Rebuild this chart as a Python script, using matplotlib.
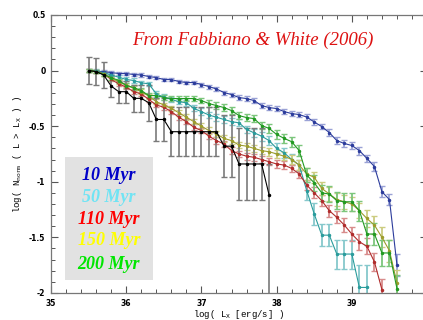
import matplotlib.pyplot as plt
from matplotlib.patches import Rectangle
from matplotlib.ticker import MultipleLocator

# log(Lx) grid, bins of 0.1 dex
lx = [35.5, 35.6, 35.7, 35.8, 35.9, 36.0, 36.1, 36.2, 36.3, 36.4,
      36.5, 36.6, 36.7, 36.8, 36.9, 37.0, 37.1, 37.2, 37.3, 37.4,
      37.5, 37.6, 37.7, 37.8, 37.9, 38.0, 38.1, 38.2, 38.3, 38.4,
      38.5, 38.6, 38.7, 38.8, 38.9, 39.0, 39.1, 39.2, 39.3, 39.4,
      39.5, 39.6]

# 10 Myr
blue = [0, -0.006, -0.01, -0.018, -0.027, -0.027, -0.036, -0.04, -0.054, -0.063,
        -0.081, -0.081, -0.099, -0.108, -0.108, -0.126, -0.144, -0.166, -0.198, -0.216,
        -0.243, -0.252, -0.27, -0.315, -0.333, -0.342, -0.369, -0.387, -0.396, -0.418,
        -0.463, -0.504, -0.558, -0.63, -0.656, -0.674, -0.72, -0.79, -0.863, -1.09,
        -1.16, -1.75]
blue_err = [0.015, 0.015, 0.015, 0.015, 0.015, 0.015, 0.015, 0.015, 0.015, 0.015,
            0.017, 0.017, 0.017, 0.017, 0.017, 0.018, 0.018, 0.018, 0.018, 0.018,
            0.02, 0.02, 0.02, 0.02, 0.02, 0.02, 0.022, 0.022, 0.022, 0.025,
            0.025, 0.025, 0.028, 0.03, 0.03, 0.03, 0.035, 0.035, 0.04, 0.05,
            0.05, 0.1]

# 50 Myr
cyan = [0, -0.005, -0.02, -0.04, -0.06, -0.08, -0.09, -0.11, -0.12, -0.21,
        -0.24, -0.26, -0.28, -0.29, -0.34, -0.37, -0.40, -0.42, -0.44, -0.46,
        -0.47, -0.53, -0.56, -0.59, -0.63, -0.70, -0.74, -0.80, -0.85, -1.08,
        -1.29, -1.48, -1.48, -1.65, -1.65, -1.65, -1.95, -1.95]
cyan_err = [0.015, 0.015, 0.015, 0.015, 0.018, 0.018, 0.02, 0.02, 0.02, 0.025,
            0.025, 0.025, 0.025, 0.028, 0.028, 0.03, 0.03, 0.03, 0.03, 0.032,
            0.032, 0.035, 0.035, 0.04, 0.04, 0.045, 0.045, 0.05, 0.05, 0.08,
            0.1, 0.1, 0.1, 0.13, 0.13, 0.13, 0.2, 0.2]

# 110 Myr
red = [0, -0.01, -0.03, -0.08, -0.12, -0.15, -0.19, -0.21, -0.26, -0.31,
       -0.33, -0.37, -0.42, -0.46, -0.51, -0.54, -0.59, -0.63, -0.66, -0.72,
       -0.75, -0.77, -0.78, -0.80, -0.82, -0.84, -0.85, -0.88, -0.93, -1.03,
       -1.10, -1.17, -1.26, -1.32, -1.39, -1.47, -1.54, -1.58, -1.72, -1.97]
red_err = [0.015, 0.015, 0.015, 0.018, 0.018, 0.02, 0.02, 0.02, 0.022, 0.022,
           0.022, 0.022, 0.025, 0.025, 0.025, 0.025, 0.028, 0.028, 0.03, 0.03,
           0.03, 0.03, 0.03, 0.032, 0.032, 0.032, 0.035, 0.035, 0.04, 0.045,
           0.05, 0.05, 0.055, 0.055, 0.06, 0.065, 0.07, 0.07, 0.08, 0.1]

# 150 Myr
olive = [0, -0.01, -0.03, -0.07, -0.10, -0.13, -0.16, -0.19, -0.23, -0.28,
         -0.31, -0.34, -0.38, -0.42, -0.46, -0.50, -0.54, -0.57, -0.61, -0.63,
         -0.67, -0.68, -0.70, -0.72, -0.73, -0.75, -0.77, -0.80, -0.85, -0.93,
         -0.96, -1.06, -1.11, -1.16, -1.18, -1.20, -1.26, -1.33, -1.39, -1.50,
         -1.62, -1.91]
olive_err = [0.015, 0.015, 0.015, 0.018, 0.018, 0.02, 0.02, 0.02, 0.022, 0.022,
             0.022, 0.022, 0.025, 0.025, 0.025, 0.025, 0.028, 0.028, 0.03, 0.03,
             0.03, 0.03, 0.032, 0.032, 0.035, 0.035, 0.038, 0.04, 0.045, 0.05,
             0.05, 0.055, 0.06, 0.06, 0.065, 0.065, 0.07, 0.075, 0.08, 0.09,
             0.1, 0.12]

# 200 Myr
green = [0, -0.01, -0.036, -0.063, -0.09, -0.135, -0.153, -0.18, -0.225, -0.225,
         -0.243, -0.252, -0.252, -0.252, -0.252, -0.27, -0.297, -0.315, -0.333, -0.36,
         -0.405, -0.423, -0.432, -0.495, -0.52, -0.575, -0.61, -0.64, -0.72, -0.94,
         -1.01, -1.10, -1.11, -1.17, -1.18, -1.18, -1.26, -1.47, -1.47, -1.64,
         -1.64, -1.96]
green_err = [0.015, 0.015, 0.015, 0.018, 0.018, 0.02, 0.02, 0.02, 0.022, 0.022,
             0.022, 0.022, 0.025, 0.025, 0.025, 0.025, 0.028, 0.028, 0.03, 0.03,
             0.032, 0.032, 0.035, 0.035, 0.038, 0.04, 0.04, 0.045, 0.05, 0.06,
             0.07, 0.07, 0.075, 0.075, 0.08, 0.08, 0.09, 0.1, 0.1, 0.12,
             0.12, 0.12]

# observed (black)
black = [0, -0.01, -0.04, -0.14, -0.19, -0.19, -0.25, -0.25, -0.29, -0.44,
         -0.44, -0.55, -0.55, -0.55, -0.55, -0.55, -0.55, -0.55, -0.68, -0.68,
         -0.84, -0.84, -0.84, -0.84, -1.12]
black_err_lo = [0.12, 0.12, 0.12, 0.1, 0.1, 0.1, 0.12, 0.12, 0.16, 0.19,
                0.19, 0.22, 0.22, 0.22, 0.22, 0.22, 0.22, 0.22, 0.28, 0.28,
                0.32, 0.32, 0.32, 0.32, 0.95]
black_err_hi = [0.12, 0.12, 0.12, 0.1, 0.1, 0.1, 0.12, 0.12, 0.16, 0.19,
                0.19, 0.22, 0.22, 0.22, 0.22, 0.22, 0.22, 0.22, 0.28, 0.28,
                0.32, 0.32, 0.32, 0.32, 0.28]

legend_labels = ['10 Myr', '50 Myr', '110 Myr', '150 Myr', '200 Myr']
legend_colors = ['#0000c8', '#70e4f4', '#ff0000', '#ffff00', '#00e600']

fig = plt.figure(figsize=(4.23, 3.2), dpi=100)
ax = fig.add_axes([0.1206, 0.0844, 0.889, 0.869])

series = [
    (blue, blue_err, '#2c3c9c', '#9aa2d6'),
    (cyan, cyan_err, '#2a9c9c', '#86c8cc'),
    (red, red_err, '#b02c2c', '#d88c8c'),
    (olive, olive_err, '#9c9c2c', '#cccc80'),
    (green, green_err, '#229a22', '#7cc67c'),
]
for vals, err, col, ecol in series:
    n = len(vals)
    ax.errorbar(lx[:n], vals, yerr=err, color=col, ecolor=ecol, lw=0.8,
                elinewidth=1.3, capsize=2, capthick=1.0, marker='.', ms=3)

nb = len(black)
ax.errorbar(lx[:nb], black, yerr=[black_err_lo, black_err_hi], color='black',
            ecolor='#7a7a7a', lw=0.8, elinewidth=1.2, capsize=2.5, capthick=1.0,
            marker='.', ms=3)

ax.set_xlim(35, 40)
ax.set_ylim(-2, 0.5)
ax.xaxis.set_major_locator(MultipleLocator(1))
ax.xaxis.set_minor_locator(MultipleLocator(0.2))
ax.yaxis.set_major_locator(MultipleLocator(0.5))
ax.yaxis.set_minor_locator(MultipleLocator(0.1))
ax.tick_params(which='both', direction='in', top=True, right=True,
               color='#555555', labelsize=5.5, pad=4)
ax.tick_params(which='major', length=5, width=0.8)
ax.tick_params(which='minor', length=3, width=0.7)
for s in ax.spines.values():
    s.set_color('#777777')
    s.set_linewidth(0.9)
ax.set_yticks([0.5, 0, -0.5, -1, -1.5, -2])
ax.set_yticklabels(['0.5', '0', '-0.5', '-1', '-1.5', '-2'], fontweight='bold')
ax.set_xticks([35, 36, 37, 38, 39])
ax.set_xticklabels(['35', '36', '37', '38', '39'], fontweight='bold')

ax.set_xlabel('log( L$\\mathregular{_X}$ [erg/s] )', family='Liberation Mono',
              fontsize=6.5, labelpad=0)
ax.set_ylabel('log( N$\\mathregular{_{norm}}$ ( L > L$\\mathregular{_X}$ ) )',
              family='Liberation Mono', fontsize=6.5, labelpad=4)

# legend box
ax.add_patch(Rectangle((35.19, -1.88), 1.16, 1.1, facecolor='#e2e2e2',
                       edgecolor='none', zorder=5))
ly = [-0.94, -1.14, -1.34, -1.53, -1.74]
for t, c, y in zip(legend_labels, legend_colors, ly):
    ax.text(35.77, y, t, color=c, family='Liberation Serif', fontsize=13,
            fontweight='bold', fontstyle='italic', ha='center', va='center',
            zorder=6)

fig.text(0.597, 0.875, 'From Fabbiano & White (2006)', color='#dd1111',
         family='Liberation Serif', fontstyle='italic', fontsize=13.5,
         ha='center', va='center')

plt.savefig('out.png', dpi=100)
